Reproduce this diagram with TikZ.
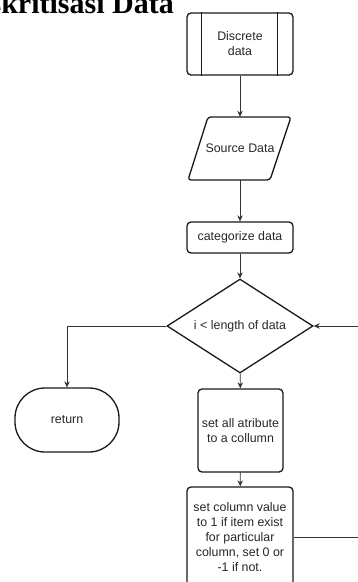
\documentclass[tikz,border=0pt]{standalone}
\usepackage{fontspec}
\setmainfont{Liberation Sans}
\newfontfamily\titlefont{Liberation Serif}
\usetikzlibrary{shapes.geometric,arrows.meta}
\begin{document}
\begin{tikzpicture}[x=1pt,y=-1pt,
  every node/.style={font=\fontsize{12.4}{15}\selectfont, text=black!85, inner sep=1pt, align=center},
  box/.style={draw=black!90, line width=1.3pt, rounded corners=4pt},
  conn/.style={draw=black!80, line width=0.9pt},
  arr/.style={conn, -{Stealth[length=6pt,width=5.5pt]}}]
\useasboundingbox (0,0) rectangle (358,582);
\clip (0,0) rectangle (358,582);
% title
\node[anchor=base east, font=\titlefont\bfseries\fontsize{30}{34}\selectfont, text=black, inner sep=0] (title) at (174,13) {Diskritisasi Data};
% discrete data (predefined process)
\node[box, minimum width=106pt, minimum height=62pt] (disc) at (240,44) {Discrete\\data};
\draw[line width=1.3pt, black!90] ([xshift=15pt]disc.north west) -- ([xshift=15pt]disc.south west);
\draw[line width=1.3pt, black!90] ([xshift=-16pt]disc.north east) -- ([xshift=-16pt]disc.south east);
% source data (parallelogram)
\node[minimum width=83pt, minimum height=63pt] (src) at (240,148.5) {Source Data};
\draw[line width=1.3pt, black!90, rounded corners=3pt] (208,117) -- (291,117) -- (270,180) -- (188,180) -- cycle;
% categorize data
\node[box, minimum width=106pt, minimum height=31pt] (cat) at (240,237.5) {categorize data};
% decision
\node[draw=black!90, line width=1.3pt, diamond, aspect=1.55, minimum width=146pt, minimum height=94pt, inner sep=0pt] (dia) at (240,326) {i < length of data};
% return
\node[draw=black!90, line width=1.3pt, rounded corners=30pt, minimum width=104pt, minimum height=64pt] (ret) at (67,420) {return};
% set all atribute
\node[box, minimum width=85pt, minimum height=83pt] (attr) at (240.5,430.5) {set all atribute\\to a collumn};
% set column value
\node[box, minimum width=106pt, minimum height=100pt] (setv) at (240,537) {set column value\\to 1 if item exist\\for particular\\column, set 0 or\\-1 if not.};
% connectors
\draw[arr] (disc) -- (src);
\draw[arr] (src) -- (cat);
\draw[arr] (cat) -- (dia);
\draw[arr] (dia.west) -| (ret.north);
\draw[arr] (dia) -- (attr);
\draw[arr] (attr) -- (setv);
\draw[arr] (setv.east) -- ++(80pt,0) |- (dia.east);
\end{tikzpicture}
\end{document}
